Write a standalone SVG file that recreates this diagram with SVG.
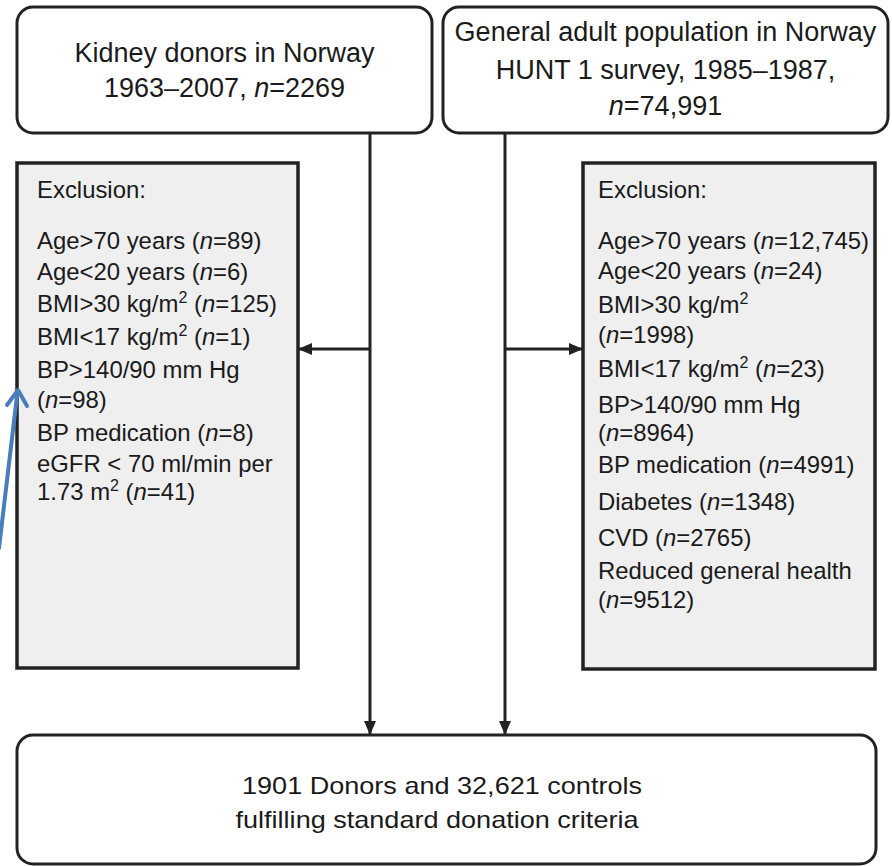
<svg xmlns="http://www.w3.org/2000/svg" width="892" height="866" viewBox="0 0 892 866">
<defs>
<style>
.box{fill:#ffffff;stroke:#222222;stroke-width:3}
.excl{fill:#efefef;stroke:#222222;stroke-width:3.5}
.t{font-family:"Liberation Sans",Arial,Helvetica,sans-serif;fill:#1a1a1a}
.big{font-size:27px}
.mid{font-size:23.9px}
.bot{font-size:24px}
.i{font-style:italic}
.sup{font-size:16px}
.conn{stroke:#222222;stroke-width:3;fill:none}
.blue{stroke:#4a7dbb;stroke-width:4;fill:none;stroke-linecap:round;stroke-linejoin:round}
</style>
<marker id="ah" markerUnits="userSpaceOnUse" markerWidth="16" markerHeight="14" refX="13" refY="6" orient="auto">
<path d="M0,0 L14,6 L0,12 Z" fill="#222222"/>
</marker>
</defs>

<g id="connectors">
<line class="conn" x1="370" y1="133" x2="370" y2="734" marker-end="url(#ah)"/>
<line class="conn" x1="505" y1="133" x2="505" y2="734" marker-end="url(#ah)"/>
<line class="conn" x1="370" y1="349" x2="299" y2="349" marker-end="url(#ah)"/>
<line class="conn" x1="505" y1="349" x2="582" y2="349" marker-end="url(#ah)"/>
</g>

<g id="donors">
<rect class="box" x="17" y="7" width="415" height="126" rx="16"/>
<text class="t big" x="224.5" y="62" text-anchor="middle">Kidney donors in Norway</text>
<text class="t big" x="224.5" y="97" text-anchor="middle">1963–2007, <tspan class="i">n</tspan>=2269</text>
</g>

<g id="population">
<rect class="box" x="443" y="7" width="445" height="126" rx="16"/>
<text class="t big" x="665.5" y="41" text-anchor="middle">General adult population in Norway</text>
<text class="t big" x="665.5" y="79" text-anchor="middle">HUNT 1 survey, 1985–1987,</text>
<text class="t big" x="665.5" y="115" text-anchor="middle"><tspan class="i">n</tspan>=74,991</text>
</g>

<g id="exclusion-donors">
<rect class="excl" x="17" y="163" width="281" height="505"/>
<text class="t mid" x="37" y="198">Exclusion:</text>
<text class="t mid" x="37" y="249">Age&gt;70 years (<tspan class="i">n</tspan>=89)</text>
<text class="t mid" x="37" y="280">Age&lt;20 years (<tspan class="i">n</tspan>=6)</text>
<text class="t mid" x="37" y="312">BMI&gt;30 kg/m<tspan class="sup" dy="-9">2</tspan><tspan dy="9"> (</tspan><tspan class="i">n</tspan>=125)</text>
<text class="t mid" x="37" y="345">BMI&lt;17 kg/m<tspan class="sup" dy="-9">2</tspan><tspan dy="9"> (</tspan><tspan class="i">n</tspan>=1)</text>
<text class="t mid" x="37" y="378">BP&gt;140/90 mm Hg</text>
<text class="t mid" x="37" y="408">(<tspan class="i">n</tspan>=98)</text>
<text class="t mid" x="37" y="441">BP medication (<tspan class="i">n</tspan>=8)</text>
<text class="t mid" x="37" y="472">eGFR &lt; 70 ml/min per</text>
<text class="t mid" x="37" y="500">1.73 m<tspan class="sup" dy="-9">2</tspan><tspan dy="9"> (</tspan><tspan class="i">n</tspan>=41)</text>
</g>

<g id="exclusion-population">
<rect class="excl" x="583" y="163" width="292" height="506"/>
<text class="t mid" x="598" y="198">Exclusion:</text>
<text class="t mid" x="598" y="249">Age&gt;70 years (<tspan class="i">n</tspan>=12,745)</text>
<text class="t mid" x="598" y="279">Age&lt;20 years (<tspan class="i">n</tspan>=24)</text>
<text class="t mid" x="598" y="313">BMI&gt;30 kg/m<tspan class="sup" dy="-9">2</tspan></text>
<text class="t mid" x="598" y="343">(<tspan class="i">n</tspan>=1998)</text>
<text class="t mid" x="598" y="377">BMI&lt;17 kg/m<tspan class="sup" dy="-9">2</tspan><tspan dy="9"> (</tspan><tspan class="i">n</tspan>=23)</text>
<text class="t mid" x="598" y="413">BP&gt;140/90 mm Hg</text>
<text class="t mid" x="598" y="441">(<tspan class="i">n</tspan>=8964)</text>
<text class="t mid" x="598" y="473">BP medication (<tspan class="i">n</tspan>=4991)</text>
<text class="t mid" x="598" y="510">Diabetes (<tspan class="i">n</tspan>=1348)</text>
<text class="t mid" x="598" y="546">CVD (<tspan class="i">n</tspan>=2765)</text>
<text class="t mid" x="598" y="579">Reduced general health</text>
<text class="t mid" x="598" y="608">(<tspan class="i">n</tspan>=9512)</text>
</g>

<g id="result">
<rect class="box" x="17" y="735" width="859" height="129" rx="16"/>
<text class="t bot" x="442" y="794" text-anchor="middle" textLength="400" lengthAdjust="spacingAndGlyphs">1901 Donors and 32,621 controls</text>
<text class="t bot" x="437" y="828" text-anchor="middle" textLength="403" lengthAdjust="spacingAndGlyphs">fulfilling standard donation criteria</text>
</g>

<g id="annotation">
<path class="blue" d="M-1,548 L17.6,391"/>
<path class="blue" d="M7,405 L18,390 L27,406"/>
</g>
</svg>
